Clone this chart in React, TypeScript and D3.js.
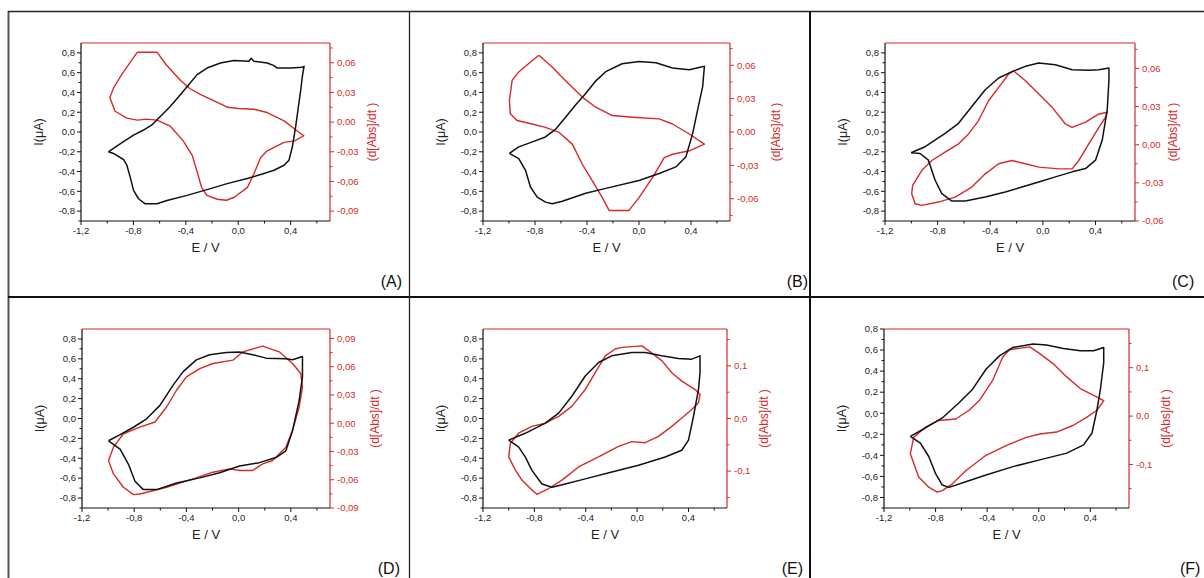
import React from "react";
import * as d3 from "d3";

type Pt = [number, number];

// ---------- data (E / V , value) ----------
const blackA: Pt[] = [
  [-0.991, -0.2], [-0.952, -0.217], [-0.876, -0.278], [-0.85, -0.336], [-0.825, -0.454], [-0.799, -0.59],
  [-0.761, -0.675], [-0.71, -0.726], [-0.621, -0.726], [-0.544, -0.692], [-0.391, -0.641], [-0.238, -0.583],
  [-0.085, -0.522], [0.068, -0.471], [0.196, -0.42], [0.273, -0.387], [0.349, -0.336], [0.387, -0.285],
  [0.413, -0.149], [0.438, 0.054], [0.459, 0.258], [0.477, 0.427], [0.489, 0.563], [0.502, 0.664],
  [0.489, 0.654], [0.4, 0.647], [0.298, 0.647], [0.273, 0.671], [0.221, 0.698], [0.119, 0.715],
  [0.099, 0.746], [0.081, 0.715], [-0.034, 0.722], [-0.136, 0.698], [-0.238, 0.647], [-0.314, 0.58],
  [-0.378, 0.478], [-0.442, 0.376], [-0.519, 0.258], [-0.595, 0.156], [-0.659, 0.071], [-0.723, 0.02],
  [-0.799, -0.031], [-0.876, -0.098], [-0.952, -0.166], [-0.991, -0.2],
];
const redA: Pt[] = [
  [-0.77, 0.0707], [-0.62, 0.0707], [-0.55, 0.058], [-0.44, 0.042], [-0.37, 0.034], [-0.29, 0.028],
  [-0.16, 0.02], [-0.08, 0.015], [0.0, 0.0137], [0.12, 0.013], [0.22, 0.0097], [0.35, 0.0013],
  [0.43, -0.007], [0.5, -0.0138], [0.43, -0.019], [0.35, -0.0205], [0.22, -0.029], [0.17, -0.036],
  [0.12, -0.052], [0.07, -0.066], [-0.03, -0.076], [-0.09, -0.079], [-0.16, -0.078], [-0.24, -0.074],
  [-0.28, -0.066], [-0.31, -0.052], [-0.35, -0.034], [-0.42, -0.019], [-0.52, -0.004], [-0.62, 0.002],
  [-0.7, 0.003], [-0.77, 0.002], [-0.85, 0.004], [-0.94, 0.011], [-0.98, 0.025], [-0.95, 0.035],
  [-0.89, 0.048], [-0.77, 0.0707],
];
const blackB: Pt[] = [
  [-0.997, -0.217], [-0.925, -0.27], [-0.873, -0.387], [-0.835, -0.556], [-0.783, -0.658], [-0.719, -0.709],
  [-0.668, -0.726], [-0.59, -0.7], [-0.41, -0.62], [-0.256, -0.57], [0.0, -0.49], [0.155, -0.42],
  [0.284, -0.353], [0.361, -0.25], [0.413, -0.014], [0.451, 0.224], [0.49, 0.461], [0.503, 0.664],
  [0.387, 0.63], [0.258, 0.647], [0.13, 0.7], [0.0, 0.712], [-0.13, 0.69], [-0.256, 0.61],
  [-0.33, 0.52], [-0.41, 0.39], [-0.49, 0.27], [-0.565, 0.15], [-0.64, 0.03], [-0.72, -0.05],
  [-0.82, -0.1], [-0.925, -0.15], [-0.997, -0.217],
];
const redB: Pt[] = [
  [-0.77, 0.069], [-0.668, 0.0585], [-0.565, 0.046], [-0.436, 0.0314], [-0.333, 0.0223], [-0.205, 0.0148],
  [-0.05, 0.0133], [0.155, 0.0118], [0.258, 0.0072], [0.387, -0.0018], [0.503, -0.0109], [0.387, -0.0169],
  [0.258, -0.02], [0.194, -0.023], [0.104, -0.041], [0.0, -0.059], [-0.077, -0.0705], [-0.23, -0.0705],
  [-0.282, -0.059], [-0.359, -0.044], [-0.436, -0.029], [-0.513, -0.0109], [-0.616, -0.0003], [-0.719, 0.0042],
  [-0.822, 0.0072], [-0.938, 0.0103], [-0.99, 0.0163], [-0.997, 0.0283], [-0.976, 0.0464], [-0.925, 0.054],
  [-0.848, 0.0615], [-0.77, 0.069],
];
const blackC: Pt[] = [
  [-1.002, -0.21], [-0.895, -0.149], [-0.743, -0.014], [-0.641, 0.088], [-0.54, 0.258], [-0.438, 0.427],
  [-0.336, 0.546], [-0.235, 0.61], [-0.133, 0.664], [-0.032, 0.698], [0.095, 0.68], [0.222, 0.63],
  [0.349, 0.624], [0.426, 0.63], [0.502, 0.647], [0.502, 0.529], [0.489, 0.224], [0.451, -0.081],
  [0.4, -0.285], [0.324, -0.37], [0.222, -0.403], [0.095, -0.454], [-0.032, -0.505], [-0.159, -0.556],
  [-0.286, -0.607], [-0.438, -0.658], [-0.59, -0.698], [-0.692, -0.698], [-0.768, -0.624], [-0.819, -0.488],
  [-0.87, -0.285], [-0.933, -0.217], [-1.002, -0.21],
];
const redC: Pt[] = [
  [-0.222, 0.058], [-0.133, 0.0503], [-0.032, 0.04], [0.07, 0.0294], [0.171, 0.0163], [0.222, 0.0137],
  [0.324, 0.0177], [0.426, 0.0242], [0.489, 0.0255], [0.476, 0.0216], [0.426, 0.0137], [0.349, 0.0007],
  [0.273, -0.0124], [0.222, -0.019], [0.121, -0.019], [-0.032, -0.0176], [-0.133, -0.015], [-0.235, -0.0124],
  [-0.336, -0.015], [-0.438, -0.0229], [-0.54, -0.0333], [-0.667, -0.0412], [-0.794, -0.0451], [-0.921, -0.0477],
  [-0.971, -0.0464], [-0.997, -0.0386], [-0.99, -0.032], [-0.921, -0.0203], [-0.844, -0.0124], [-0.743, -0.0059],
  [-0.641, 0.0007], [-0.565, 0.0085], [-0.489, 0.019], [-0.413, 0.0346], [-0.336, 0.0451], [-0.26, 0.0556],
  [-0.222, 0.058],
];
const blackD: Pt[] = [
  [-0.997, -0.224], [-0.908, -0.163], [-0.806, -0.088], [-0.705, -0.003], [-0.603, 0.132], [-0.502, 0.336],
  [-0.425, 0.471], [-0.324, 0.59], [-0.222, 0.641], [-0.095, 0.664], [0.007, 0.668], [0.108, 0.641],
  [0.21, 0.607], [0.362, 0.6], [0.413, 0.59], [0.489, 0.624], [0.489, 0.42], [0.464, 0.183],
  [0.413, -0.122], [0.362, -0.325], [0.286, -0.393], [0.159, -0.444], [0.007, -0.478], [-0.146, -0.546],
  [-0.298, -0.597], [-0.476, -0.648], [-0.629, -0.715], [-0.73, -0.715], [-0.794, -0.631], [-0.844, -0.461],
  [-0.908, -0.309], [-0.997, -0.224],
];
const redD: Pt[] = [
  [-0.997, -0.0396], [-0.959, -0.0254], [-0.883, -0.0112], [-0.756, -0.0041], [-0.641, 0.0013], [-0.552, 0.0172],
  [-0.476, 0.035], [-0.4, 0.0492], [-0.298, 0.058], [-0.197, 0.0634], [-0.044, 0.0669], [0.032, 0.0758],
  [0.184, 0.0818], [0.311, 0.0758], [0.413, 0.0634], [0.476, 0.0527], [0.489, 0.0385], [0.464, 0.0172],
  [0.413, -0.0076], [0.362, -0.0254], [0.26, -0.0396], [0.184, -0.0431], [0.108, -0.0502], [0.007, -0.0502],
  [-0.07, -0.0485], [-0.197, -0.052], [-0.349, -0.0591], [-0.552, -0.068], [-0.756, -0.0751], [-0.806, -0.0758],
  [-0.883, -0.068], [-0.959, -0.0538], [-0.997, -0.0396],
];
const blackE: Pt[] = [
  [-1.0, -0.217], [-0.871, -0.149], [-0.715, -0.047], [-0.611, 0.054], [-0.508, 0.224], [-0.404, 0.427],
  [-0.3, 0.563], [-0.197, 0.63], [-0.041, 0.664], [0.063, 0.664], [0.192, 0.63], [0.322, 0.603],
  [0.426, 0.597], [0.49, 0.63], [0.49, 0.461], [0.478, 0.292], [0.439, 0.02], [0.4, -0.217],
  [0.348, -0.319], [0.218, -0.387], [0.011, -0.471], [-0.197, -0.539], [-0.404, -0.607], [-0.56, -0.658],
  [-0.663, -0.692], [-0.741, -0.658], [-0.819, -0.522], [-0.871, -0.386], [-0.923, -0.285], [-1.0, -0.217],
];
const redE: Pt[] = [
  [-0.119, 0.135], [0.037, 0.138], [0.089, 0.129], [0.192, 0.11], [0.27, 0.087], [0.348, 0.071],
  [0.452, 0.055], [0.49, 0.046], [0.478, 0.03], [0.426, 0.017], [0.348, 0.001], [0.27, -0.015],
  [0.166, -0.034], [0.063, -0.046], [-0.041, -0.044], [-0.145, -0.053], [-0.3, -0.073], [-0.456, -0.092],
  [-0.585, -0.117], [-0.689, -0.133], [-0.78, -0.144], [-0.819, -0.136], [-0.897, -0.117], [-0.948, -0.098],
  [-1.0, -0.073], [-0.987, -0.047], [-0.923, -0.028], [-0.819, -0.015], [-0.715, -0.009], [-0.611, 0.004],
  [-0.508, 0.023], [-0.404, 0.055], [-0.326, 0.087], [-0.248, 0.119], [-0.171, 0.132], [-0.119, 0.135],
];
const blackF: Pt[] = [
  [-0.996, -0.22], [-0.879, -0.14], [-0.748, -0.045], [-0.618, 0.099], [-0.514, 0.226], [-0.409, 0.418],
  [-0.305, 0.545], [-0.2, 0.625], [-0.044, 0.657], [0.06, 0.647], [0.191, 0.615], [0.322, 0.593],
  [0.426, 0.593], [0.504, 0.625], [0.504, 0.481], [0.478, 0.226], [0.452, 0.035], [0.413, -0.188],
  [0.348, -0.3], [0.217, -0.379], [0.008, -0.443], [-0.2, -0.507], [-0.409, -0.586], [-0.566, -0.65],
  [-0.696, -0.704], [-0.748, -0.682], [-0.801, -0.57], [-0.853, -0.411], [-0.918, -0.284], [-0.996, -0.22],
];
const redF: Pt[] = [
  [-0.07, 0.143], [0.008, 0.129], [0.113, 0.108], [0.217, 0.081], [0.322, 0.057], [0.426, 0.043],
  [0.504, 0.032], [0.452, 0.012], [0.374, -0.002], [0.269, -0.019], [0.139, -0.033], [0.008, -0.037],
  [-0.096, -0.044], [-0.253, -0.061], [-0.409, -0.081], [-0.566, -0.113], [-0.67, -0.14], [-0.748, -0.154],
  [-0.788, -0.157], [-0.853, -0.147], [-0.931, -0.126], [-0.996, -0.078], [-0.97, -0.044], [-0.879, -0.023],
  [-0.775, -0.009], [-0.644, -0.006], [-0.54, 0.012], [-0.461, 0.032], [-0.357, 0.074], [-0.279, 0.122],
  [-0.227, 0.137], [-0.07, 0.143],
];

// ---------- ticks ----------
const xMajor = [-1.2, -0.8, -0.4, 0.0, 0.4];
const xMinor = [-1.0, -0.6, -0.2, 0.2, 0.6];
const yMajor = [-0.8, -0.6, -0.4, -0.2, 0.0, 0.2, 0.4, 0.6, 0.8];
const yMinor = [-0.9, -0.7, -0.5, -0.3, -0.1, 0.1, 0.3, 0.5, 0.7];
const rMajor3 = [-0.09, -0.06, -0.03, 0.0, 0.03, 0.06, 0.09];
const rMinor3 = [-0.075, -0.045, -0.015, 0.015, 0.045, 0.075];
const rMajor1 = [-0.1, 0.0, 0.1];
const rMinor1 = [-0.15, -0.05, 0.05, 0.15];
const panelLabels = ["(A)", "(B)", "(C)", "(D)", "(E)", "(F)"];

const RED = "#d42a2a";
const FONT = "'Liberation Sans', Arial, Helvetica, sans-serif";

const fmt = (v: number, n: number) => {
  const s = Math.abs(v) < 1e-9 ? (0).toFixed(n) : v.toFixed(n);
  return s.replace(".", ",");
};

type PanelCfg = {
  black: Pt[]; red: Pt[]; left: [number, number]; right: [number, number];
  rMaj: number[]; rMin: number[]; rDec: number;
  box: { x: number; y: number; w: number; h: number };
  rLabelOff: number;
  label: string; lab: { x: number; y: number; anchor: string };
};

const panels: PanelCfg[] = [
  { black: blackA, red: redA, left: [-0.9, 0.9], right: [-0.1, 0.08], rMaj: rMajor3, rMin: rMinor3, rDec: 2,
    box: { x: 81, y: 43, w: 249, h: 178 }, rLabelOff: 42, label: panelLabels[0], lab: { x: 402, y: 287, anchor: "end" } },
  { black: blackB, red: redB, left: [-0.9, 0.9], right: [-0.08, 0.08], rMaj: rMajor3, rMin: rMinor3, rDec: 2,
    box: { x: 483, y: 43, w: 247, h: 178 }, rLabelOff: 46, label: panelLabels[1], lab: { x: 808, y: 287, anchor: "end" } },
  { black: blackC, red: redC, left: [-0.9, 0.9], right: [-0.06, 0.08], rMaj: rMajor3, rMin: rMinor3, rDec: 2,
    box: { x: 885, y: 43, w: 250, h: 178 }, rLabelOff: 38, label: panelLabels[2], lab: { x: 1172, y: 287, anchor: "start" } },
  { black: blackD, red: redD, left: [-0.9, 0.9], right: [-0.09, 0.1], rMaj: rMajor3, rMin: rMinor3, rDec: 2,
    box: { x: 82, y: 329, w: 248, h: 179 }, rLabelOff: 45, label: panelLabels[3], lab: { x: 400, y: 574, anchor: "end" } },
  { black: blackE, red: redE, left: [-0.9, 0.9], right: [-0.17, 0.17], rMaj: rMajor1, rMin: rMinor1, rDec: 1,
    box: { x: 483, y: 329, w: 244, h: 179 }, rLabelOff: 37, label: panelLabels[4], lab: { x: 803, y: 574, anchor: "end" } },
  { black: blackF, red: redF, left: [-0.9, 0.8], right: [-0.19, 0.18], rMaj: rMajor1, rMin: rMinor1, rDec: 1,
    box: { x: 884, y: 329, w: 245, h: 179 }, rLabelOff: 37, label: panelLabels[5], lab: { x: 1180, y: 574, anchor: "start" } },
];

function Panel({ p }: { p: PanelCfg }) {
  const { x: bx, y: by, w, h } = p.box;
  const x = d3.scaleLinear().domain([-1.2, 0.7]).range([bx, bx + w]);
  const yl = d3.scaleLinear().domain(p.left).range([by + h, by]);
  const yr = d3.scaleLinear().domain(p.right).range([by + h, by]);
  const lineL = d3.line<Pt>().x((d) => x(d[0])).y((d) => yl(d[1]));
  const lineR = d3.line<Pt>().x((d) => x(d[0])).y((d) => yr(d[1]));
  const inL = (v: number) => v >= p.left[0] - 1e-9 && v <= p.left[1] + 1e-9;
  const inR = (v: number) => v >= p.right[0] - 1e-9 && v <= p.right[1] + 1e-9;
  const cx = bx + w / 2;
  const cy = by + h / 2;
  return (
    <g>
      {/* curves */}
      <path d={lineR(p.red) || ""} fill="none" stroke={RED} strokeWidth={1.4} strokeLinejoin="round" />
      <path d={lineL(p.black) || ""} fill="none" stroke="#111" strokeWidth={1.5} strokeLinejoin="round" />
      {/* frame */}
      <line x1={bx} x2={bx + w} y1={by} y2={by} stroke={RED} strokeWidth={1.2} />
      <line x1={bx + w} x2={bx + w} y1={by} y2={by + h} stroke={RED} strokeWidth={1.2} />
      <line x1={bx} x2={bx} y1={by} y2={by + h} stroke="#111" strokeWidth={1.2} />
      <line x1={bx} x2={bx + w} y1={by + h} y2={by + h} stroke="#111" strokeWidth={1.2} />
      {/* bottom axis */}
      {xMajor.map((v) => (
        <g key={"xm" + v}>
          <line x1={x(v)} x2={x(v)} y1={by + h} y2={by + h + 4} stroke="#111" />
          <text x={x(v)} y={by + h + 13} fontSize={9.5} textAnchor="middle" fontFamily={FONT} fill="#222">
            {fmt(v, 1)}
          </text>
        </g>
      ))}
      {xMinor.map((v) => (
        <line key={"xn" + v} x1={x(v)} x2={x(v)} y1={by + h} y2={by + h + 2.5} stroke="#111" />
      ))}
      {/* left axis */}
      {yMajor.filter(inL).map((v) => (
        <g key={"ym" + v}>
          <line x1={bx - 4} x2={bx} y1={yl(v)} y2={yl(v)} stroke="#111" />
          <text x={bx - 6} y={yl(v) + 3.3} fontSize={9.5} textAnchor="end" fontFamily={FONT} fill="#222">
            {fmt(v, 1)}
          </text>
        </g>
      ))}
      {yMinor.filter(inL).map((v) => (
        <line key={"yn" + v} x1={bx - 2.5} x2={bx} y1={yl(v)} y2={yl(v)} stroke="#111" />
      ))}
      {/* right axis */}
      {p.rMaj.filter(inR).map((v) => (
        <g key={"rm" + v}>
          <line x1={bx + w} x2={bx + w + 4} y1={yr(v)} y2={yr(v)} stroke={RED} />
          <text x={bx + w + 7} y={yr(v) + 3.3} fontSize={9.5} textAnchor="start" fontFamily={FONT} fill={RED}>
            {fmt(v, p.rDec)}
          </text>
        </g>
      ))}
      {p.rMin.filter(inR).map((v) => (
        <line key={"rn" + v} x1={bx + w} x2={bx + w + 2.5} y1={yr(v)} y2={yr(v)} stroke={RED} />
      ))}
      {/* titles */}
      <text x={cx} y={by + h + 31} fontSize={13} textAnchor="middle" fontFamily={FONT} fill="#222">
        E / V
      </text>
      <text transform={`translate(${bx - 38},${cy}) rotate(-90)`} fontSize={12.5} textAnchor="middle" fontFamily={FONT} fill="#222">
        I(μA)
      </text>
      <text transform={`translate(${bx + w + p.rLabelOff + 4},${cy}) rotate(-90)`} fontSize={12} textAnchor="middle" fontFamily={FONT} fill={RED}>
        (d[Abs]/dt )
      </text>
      <text x={p.lab.x} y={p.lab.y} fontSize={16} textAnchor={p.lab.anchor as any} fontFamily={FONT} fill="#111">
        {p.label}
      </text>
    </g>
  );
}

export default function App() {
  return (
    <svg
      width={1204}
      height={578}
      style={{ position: "absolute", left: 0, top: 0, background: "#fff" }}
    >
      <rect x={0} y={0} width={1204} height={578} fill="#fff" />
      {/* outer frame & dividers */}
      <line x1={8.5} x2={8.5} y1={11} y2={578} stroke="#555" strokeWidth={2} />
      <line x1={8} x2={1204} y1={11.5} y2={11.5} stroke="#222" strokeWidth={1.5} />
      <line x1={8} x2={1204} y1={297} y2={297} stroke="#111" strokeWidth={2} />
      <line x1={409.5} x2={409.5} y1={11} y2={578} stroke="#222" strokeWidth={1.3} />
      <line x1={810} x2={810} y1={11} y2={578} stroke="#111" strokeWidth={2} />
      {panels.map((p, i) => (
        <Panel key={i} p={p} />
      ))}
    </svg>
  );
}
